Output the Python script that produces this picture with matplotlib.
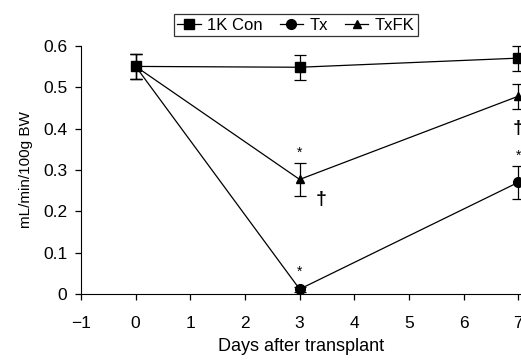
import matplotlib
matplotlib.use('Agg')
import matplotlib.pyplot as plt

plt.rcParams['font.family'] = ['Liberation Sans', 'DejaVu Sans']

days = [0, 3, 7]
con_mean = [0.55, 0.548, 0.57]
con_err = [0.03, 0.03, 0.03]
tx_mean = [0.55, 0.012, 0.27]
tx_err = [0.03, 0.006, 0.04]
fk_mean = [0.55, 0.277, 0.478]
fk_err = [0.03, 0.04, 0.03]

labels = ['1K Con', 'Tx', 'TxFK']
markers = ['s', 'o', '^']
msizes = [7, 7, 6]

fig = plt.figure(figsize=(5.21, 3.6), dpi=100)
ax = fig.add_axes([0.1555, 0.183, 0.8445, 0.69])

series = [(con_mean, con_err), (tx_mean, tx_err), (fk_mean, fk_err)]
handles = []
for (m, e), lab, mk, ms in zip(series, labels, markers, msizes):
    cont = ax.errorbar(days, m, yerr=e, color='black', marker=mk, markersize=ms,
                       linewidth=0.9, elinewidth=0.9, capsize=4.5, capthick=0.9,
                       label=lab, clip_on=False)
    handles.append(cont.lines[0])

# significance marks
ax.text(3, 0.325, '*', ha='center', va='bottom', fontsize=10)
ax.text(3, 0.038, '*', ha='center', va='bottom', fontsize=10)
ax.text(7, 0.318, '*', ha='center', va='bottom', fontsize=10)
ax.text(3.4, 0.228, '†', ha='center', va='center', fontsize=14, fontweight='bold')
ax.text(6.99, 0.40, '†', ha='center', va='center', fontsize=14, fontweight='bold')

ax.set_xlim(-1, 7.05)
ax.set_ylim(0, 0.6)
ax.set_xticks(range(-1, 8))
ax.set_xticklabels(['\u22121'] + [str(i) for i in range(0, 8)])
ax.set_yticks([0, 0.1, 0.2, 0.3, 0.4, 0.5, 0.6])
ax.set_yticklabels(['0', '0.1', '0.2', '0.3', '0.4', '0.5', '0.6'])
ax.spines['top'].set_visible(False)
ax.spines['right'].set_visible(False)
ax.tick_params(direction='out', length=4, width=0.9, labelsize=12.5)
ax.tick_params(axis='x', pad=12)
ax.tick_params(axis='y', pad=6)
ax.set_xlabel('Days after transplant', fontsize=13, labelpad=5)
ax.set_ylabel('mL/min/100g BW', fontsize=11, labelpad=7)

leg = fig.legend(handles, labels, loc='center', bbox_to_anchor=(296 / 521, 1 - 25 / 360),
                 ncol=3, frameon=True, fancybox=False, edgecolor='black', fontsize=12,
                 handlelength=1.4, handletextpad=0.4, columnspacing=1.0,
                 borderpad=0.2, numpoints=1)
leg.get_frame().set_linewidth(0.9)

fig.savefig('out.png', dpi=100)
